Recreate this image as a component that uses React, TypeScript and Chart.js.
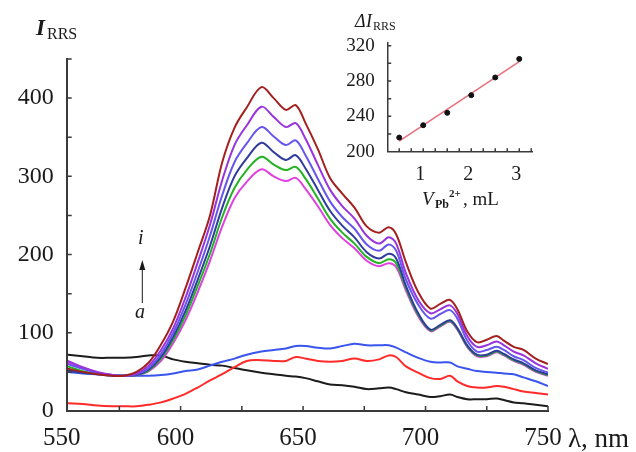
import React, { useEffect, useRef } from 'react';
import { Chart, registerables } from 'chart.js';

Chart.register(...registerables);

const SERIF = '"Liberation Serif", "Times New Roman", serif';
const AXIS = '#3a3a3a';
const TEXT = '#1a1a1a';

// ---- main spectrum data ----
const wavelengths = [554, 560, 566, 572, 577, 582, 587, 592, 597, 602, 607, 612, 617, 622, 627, 633, 638, 643, 647, 651, 656, 661, 666, 671, 676, 681, 685, 688, 692, 697, 702, 706, 710, 713, 717, 721, 725, 729, 732, 736, 740, 745, 750];

const curveA = [72, 70, 68, 68, 68, 69, 71, 71, 66, 63, 61, 59, 58, 55, 52, 49, 47, 45, 44, 42, 38, 34, 33, 31, 28, 29, 30, 28, 24, 21, 18, 19, 21, 18, 15, 15, 15, 16, 14, 11, 10, 8, 6];
const curveB = [10, 9, 7, 6, 6, 6, 8, 11, 16, 22, 30, 39, 47, 56, 64, 65, 64, 64, 69, 67, 64, 63, 64, 67, 64, 66, 71, 69, 57, 49, 42, 41, 45, 38, 32, 30, 30, 32, 31, 28, 25, 23, 21];
const curveC = [50, 48, 47, 46, 45, 45, 45, 46, 48, 51, 53, 58, 63, 67, 72, 76, 78, 80, 83, 83, 81, 80, 83, 86, 84, 84, 84, 81, 75, 68, 63, 62, 62, 57, 54, 51, 50, 49, 48, 47, 43, 38, 32];
const curveD = [62, 55, 49, 46, 45, 46, 51, 64, 87, 116, 152, 192, 236, 272, 293, 309, 300, 294, 298, 284, 262, 238, 221, 208, 192, 185, 189, 184, 154, 121, 102, 108, 114, 104, 82, 70, 70, 75, 71, 64, 59, 50, 45];
const curveE = [57, 51, 48, 46, 45, 46, 52, 67, 91, 122, 160, 201, 248, 285, 308, 325, 315, 308, 312, 297, 272, 246, 228, 214, 197, 189, 194, 189, 157, 123, 103, 109, 115, 105, 83, 71, 71, 76, 72, 65, 60, 51, 46];
const curveF = [52, 49, 47, 45, 45, 46, 53, 69, 95, 128, 168, 211, 260, 300, 323, 343, 331, 321, 327, 310, 283, 256, 237, 222, 203, 195, 201, 195, 160, 125, 104, 110, 116, 106, 84, 72, 72, 77, 73, 66, 61, 52, 47];
const curveG = [60, 54, 49, 46, 45, 47, 55, 73, 100, 136, 178, 224, 276, 318, 342, 363, 351, 340, 346, 327, 297, 268, 248, 233, 213, 205, 213, 205, 168, 136, 118, 124, 129, 118, 90, 76, 78, 82, 78, 70, 65, 55, 49];
const curveH = [64, 56, 50, 46, 45, 48, 58, 78, 106, 145, 190, 238, 295, 340, 365, 389, 376, 363, 368, 348, 315, 283, 262, 246, 224, 214, 222, 214, 176, 142, 125, 130, 135, 124, 96, 82, 84, 89, 84, 76, 71, 61, 54];
const curveI = [54, 50, 47, 45, 45, 50, 62, 85, 115, 157, 203, 250, 318, 362, 388, 414, 400, 385, 391, 368, 335, 298, 278, 260, 236, 228, 235, 226, 190, 152, 131, 137, 142, 130, 102, 88, 91, 96, 90, 82, 78, 67, 60];

const X_MIN = 553.5;
const X_MAX = 750;
const xTickValues = [X_MIN, 575, 600, 625, 650, 675, 700, 725, 750];
const xTickLabels = ['550', '', '600', '', '650', '', '700', '', '750'];
const yTickValues = [0, 50, 100, 150, 200, 250, 300, 350, 400, 450];
const yTickLabels = ['0', '', '100', '', '200', '', '300', '', '400', ''];

// ---- inset data ----
const volumes = [0.5, 1.0, 1.5, 2.0, 2.5, 3.0];
const deltaI = [216, 230, 244, 264, 284, 305];
const fitVolumes = [0.5, 3.0];
const fitDeltaI = [212, 302];
const insetXTicks = [0.5, 0.75, 1, 1.25, 1.5, 1.75, 2, 2.25, 2.5, 2.75, 3, 3.25];
const insetXLabels = ['', '', '1', '', '', '', '2', '', '', '', '3', ''];
const insetYTicks = [200, 220, 240, 260, 280, 300, 320];
const insetYLabels = ['200', '', '240', '', '280', '', '320'];

type Run = { t: string; font: string; x: number; y: number };

function drawRuns(ctx: CanvasRenderingContext2D, runs: Run[]) {
  ctx.save();
  ctx.fillStyle = TEXT;
  ctx.textAlign = 'left';
  ctx.textBaseline = 'alphabetic';
  runs.forEach((r) => {
    ctx.font = r.font;
    ctx.fillText(r.t, r.x, r.y);
  });
  ctx.restore();
}

function inwardTicks(len: number) {
  return {
    id: 'inwardTicks',
    afterDraw(chart: any) {
      const { ctx, chartArea, scales } = chart;
      const xs = scales.x;
      const ys = scales.y;
      ctx.save();
      ctx.strokeStyle = AXIS;
      ctx.lineWidth = 1.5;
      ctx.beginPath();
      xs.ticks.forEach((t: any) => {
        const p = xs.getPixelForValue(t.value);
        if (Math.abs(p - chartArea.left) < 2) return;
        ctx.moveTo(p, chartArea.bottom);
        ctx.lineTo(p, chartArea.bottom - len);
      });
      ys.ticks.forEach((t: any) => {
        const p = ys.getPixelForValue(t.value);
        if (Math.abs(p - chartArea.bottom) < 2) return;
        ctx.moveTo(chartArea.left, p);
        ctx.lineTo(chartArea.left + len, p);
      });
      ctx.stroke();
      ctx.restore();
    },
  };
}

const mainText = {
  id: 'mainText',
  afterDraw(chart: any) {
    const ctx = chart.ctx as CanvasRenderingContext2D;
    drawRuns(ctx, [
      { t: 'I', font: `italic bold 23px ${SERIF}`, x: 36, y: 35 },
      { t: 'RRS', font: `16px ${SERIF}`, x: 47, y: 39 },
      { t: 'λ, nm', font: `27px ${SERIF}`, x: 568, y: 447 },
      { t: 'i', font: `italic 20px ${SERIF}`, x: 138, y: 244 },
      { t: 'a', font: `italic 20px ${SERIF}`, x: 135, y: 318 },
    ]);
    // arrow a -> i
    ctx.save();
    ctx.strokeStyle = TEXT;
    ctx.fillStyle = TEXT;
    ctx.lineWidth = 1;
    ctx.beginPath();
    ctx.moveTo(142.3, 303);
    ctx.lineTo(142.3, 268);
    ctx.stroke();
    ctx.beginPath();
    ctx.moveTo(142.3, 260);
    ctx.lineTo(139.3, 270);
    ctx.lineTo(145.3, 270);
    ctx.closePath();
    ctx.fill();
    ctx.restore();
  },
};

const insetText = {
  id: 'insetText',
  afterDraw(chart: any) {
    const ctx = chart.ctx as CanvasRenderingContext2D;
    drawRuns(ctx, [
      { t: 'Δ', font: `italic 18px ${SERIF}`, x: 355, y: 27 },
      { t: 'I', font: `italic 18px ${SERIF}`, x: 366, y: 27 },
      { t: 'RRS', font: `12px ${SERIF}`, x: 373, y: 30 },
      { t: 'V', font: `italic 19px ${SERIF}`, x: 422, y: 205 },
      { t: 'Pb', font: `bold 12px ${SERIF}`, x: 435, y: 208 },
      { t: '2+', font: `bold 11px ${SERIF}`, x: 449, y: 197 },
      { t: ', mL', font: `19px ${SERIF}`, x: 463, y: 205 },
    ]);
  },
};

function line(label: string, data: number[], color: string) {
  return {
    label,
    data: wavelengths.map((w, i) => ({ x: w, y: data[i] })),
    borderColor: color,
    backgroundColor: color,
    borderWidth: 2,
    pointRadius: 0,
    tension: 0.35,
    fill: false,
  };
}

export default function App() {
  const mainRef = useRef<HTMLCanvasElement>(null);
  const insetRef = useRef<HTMLCanvasElement>(null);

  useEffect(() => {
    if (!mainRef.current || !insetRef.current) return;
    const tickFont = (size: number) => ({ family: SERIF, size });

    const main = new Chart(mainRef.current, {
      type: 'line',
      data: {
        datasets: [
          line('i', curveI, '#a3201f'),
          line('h', curveH, '#9933dd'),
          line('g', curveG, '#6655ee'),
          line('f', curveF, '#2f3c9c'),
          line('e', curveE, '#22b322'),
          line('d', curveD, '#e040e0'),
          line('c', curveC, '#3a55ee'),
          line('b', curveB, '#ff2a2a'),
          line('a', curveA, '#1c1c1c'),
        ] as any,
      },
      options: {
        responsive: false,
        animation: false,
        devicePixelRatio: 1,
        layout: { padding: { left: 0, top: 59, right: 88, bottom: 0 } },
        plugins: { legend: { display: false }, tooltip: { enabled: false } },
        scales: {
          x: {
            type: 'linear',
            min: X_MIN,
            max: X_MAX,
            afterBuildTicks: (s: any) => {
              s.ticks = xTickValues.map((v) => ({ value: v }));
            },
            afterFit: (s: any) => {
              s.height = 41;
            },
            grid: { display: false, drawTicks: false },
            border: { display: true, color: AXIS, width: 2 },
            ticks: {
              autoSkip: false,
              maxRotation: 0,
              padding: 12,
              labelOffset: -5,
              color: TEXT,
              font: tickFont(25),
              callback: (_v: any, i: number) => xTickLabels[i],
            },
          },
          y: {
            type: 'linear',
            min: 0,
            max: 450,
            afterBuildTicks: (s: any) => {
              s.ticks = yTickValues.map((v) => ({ value: v }));
            },
            afterFit: (s: any) => {
              s.width = 66.7;
            },
            grid: { display: false, drawTicks: false },
            border: { display: true, color: AXIS, width: 2 },
            ticks: {
              autoSkip: false,
              padding: 13,
              color: TEXT,
              font: tickFont(24),
              callback: (_v: any, i: number) => yTickLabels[i],
            },
          },
        },
      } as any,
      plugins: [inwardTicks(5), mainText],
    });

    const inset = new Chart(insetRef.current, {
      type: 'scatter',
      data: {
        datasets: [
          {
            label: 'points',
            data: volumes.map((v, i) => ({ x: v, y: deltaI[i] })),
            backgroundColor: '#111',
            borderColor: '#111',
            pointRadius: 2.5,
            showLine: false,
          },
          {
            label: 'fit',
            data: fitVolumes.map((v, i) => ({ x: v, y: fitDeltaI[i] })),
            borderColor: '#e8707e',
            borderWidth: 1.6,
            pointRadius: 0,
            showLine: true,
          },
        ] as any,
      },
      options: {
        responsive: false,
        animation: false,
        devicePixelRatio: 1,
        layout: { padding: { left: 330, top: 43, right: 103.3, bottom: 255.3 } },
        plugins: { legend: { display: false }, tooltip: { enabled: false } },
        scales: {
          x: {
            type: 'linear',
            min: 0.26,
            max: 3.28,
            afterBuildTicks: (s: any) => {
              s.ticks = insetXTicks.map((v) => ({ value: v }));
            },
            afterFit: (s: any) => {
              s.height = 45;
            },
            grid: { display: false, drawTicks: false },
            border: { display: true, color: AXIS, width: 1.5 },
            ticks: {
              autoSkip: false,
              maxRotation: 0,
              padding: 11,
              labelOffset: -3,
              color: TEXT,
              font: tickFont(20),
              callback: (_v: any, i: number) => insetXLabels[i],
            },
          },
          y: {
            type: 'linear',
            min: 200,
            max: 323,
            afterBuildTicks: (s: any) => {
              s.ticks = insetYTicks.map((v) => ({ value: v }));
            },
            afterFit: (s: any) => {
              s.width = 57.7;
            },
            grid: { display: false, drawTicks: false },
            border: { display: true, color: AXIS, width: 1.5 },
            ticks: {
              autoSkip: false,
              padding: 13,
              color: TEXT,
              font: tickFont(19),
              callback: (_v: any, i: number) => insetYLabels[i],
            },
          },
        },
      } as any,
      plugins: [inwardTicks(3.5), insetText],
    });

    return () => {
      main.destroy();
      inset.destroy();
    };
  }, []);

  return (
    <div style={{ position: 'fixed', left: 0, top: 0, width: 636, height: 452, background: '#fff' }}>
      <canvas ref={mainRef} width={636} height={452} style={{ position: 'absolute', left: 0, top: 0 }} />
      <canvas ref={insetRef} width={636} height={452} style={{ position: 'absolute', left: 0, top: 0 }} />
    </div>
  );
}
